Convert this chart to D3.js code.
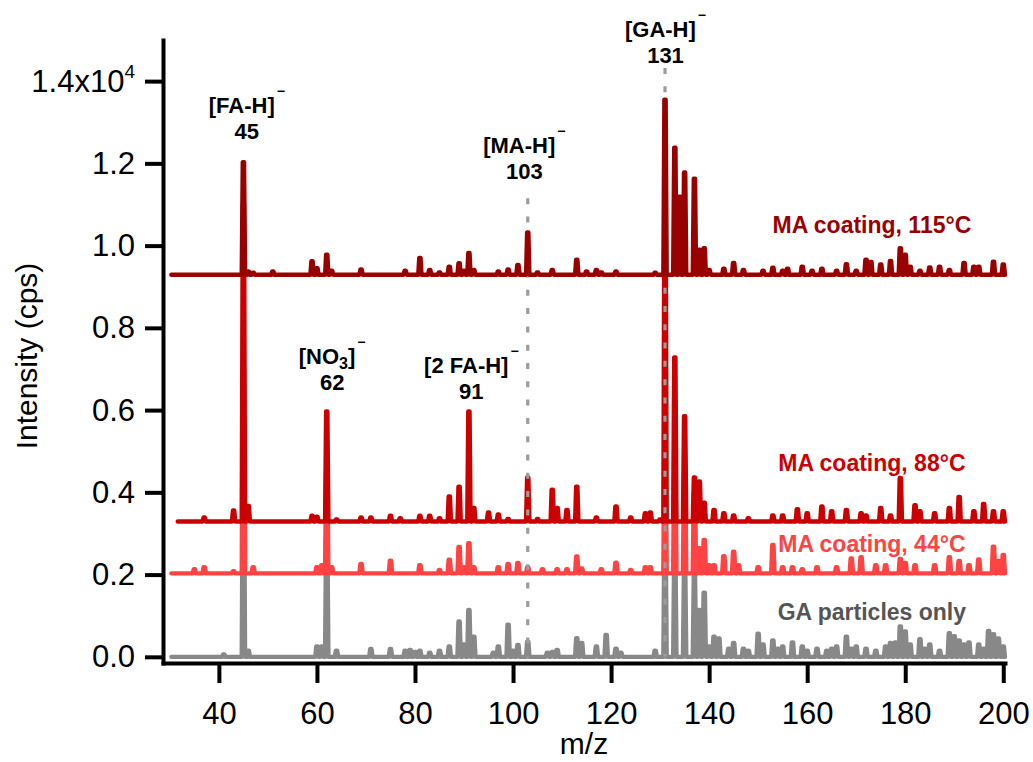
<!DOCTYPE html>
<html>
<head>
<meta charset="utf-8">
<script src="https://cdn.jsdelivr.net/npm/d3@7"></script>
<style>
  html, body { margin: 0; padding: 0; background: #fff; }
  svg { display: block; font-family: "Liberation Sans", Arial, Helvetica, sans-serif; }
</style>
</head>
<body>
<svg id="chart" width="1033" height="762"></svg>
<script>
// ---- axis ticks ----
const xTicks = [40, 60, 80, 100, 120, 140, 160, 180, 200];
const yTicks = [0, 2000, 4000, 6000, 8000, 10000, 12000, 14000];

// ---- spectra: peak m/z and intensity above the trace's own baseline (cps) ----
// GA particles only
const gaMz  = [41, 45, 46, 60, 61, 62, 64, 71, 75, 78, 79, 80, 81, 83, 85, 87, 89, 90, 91, 92, 96, 97, 99, 100, 101, 103, 107, 108, 109, 113, 114, 117, 119, 121, 122, 129, 131, 133, 135, 137, 138, 139, 140, 141, 142, 144, 145, 147, 148, 150, 151, 153, 154, 155, 157, 159, 160, 162, 164, 165, 166, 168, 169, 170, 172, 174, 176, 177, 178, 179, 180, 181, 183, 184, 185, 187, 189, 190, 191, 192, 193, 195, 196, 197, 198, 199, 200];
const gaInt = [60, 4500, 150, 250, 250, 3000, 150, 190, 190, 150, 170, 120, 150, 100, 150, 250, 860, 300, 1140, 490, 100, 250, 780, 150, 290, 370, 100, 120, 170, 455, 340, 250, 535, 200, 100, 150, 3000, 2500, 2200, 2000, 1140, 1560, 250, 490, 450, 200, 340, 200, 150, 560, 300, 400, 200, 250, 350, 250, 150, 200, 150, 200, 250, 490, 200, 250, 200, 150, 250, 335, 350, 740, 620, 300, 430, 200, 300, 150, 575, 500, 400, 300, 350, 300, 200, 630, 550, 450, 250];

// MA coating, 44 °C
const ma44Mz  = [35, 37, 43, 45, 47, 60, 61, 62, 63, 69, 75, 81, 85, 87, 89, 90, 91, 92, 97, 99, 101, 103, 106, 109, 111, 113, 114, 118, 121, 124, 127, 128, 131, 133, 135, 137, 138, 139, 140, 141, 143, 145, 146, 150, 153, 155, 157, 159, 162, 166, 169, 171, 174, 176, 179, 180, 182, 186, 189, 191, 193, 195, 198, 199, 200];
const ma44Int = [100, 150, 50, 4970, 150, 150, 200, 2470, 150, 230, 310, 200, 80, 330, 640, 150, 736, 150, 150, 230, 250, 150, 100, 100, 100, 410, 120, 100, 260, 80, 150, 150, 3470, 2970, 2470, 1970, 610, 810, 200, 200, 420, 525, 200, 150, 690, 150, 150, 100, 150, 150, 365, 390, 200, 200, 350, 250, 200, 200, 390, 300, 200, 340, 650, 300, 450];

// MA coating, 88 °C
const ma88Mz  = [37, 43, 45, 46, 59, 60, 62, 64, 69, 71, 75, 77, 81, 83, 85, 87, 89, 91, 92, 95, 97, 99, 103, 105, 108, 109, 111, 113, 117, 121, 124, 127, 128, 130, 131, 133, 135, 137, 138, 139, 141, 143, 145, 148, 153, 155, 158, 160, 163, 165, 168, 171, 172, 175, 177, 179, 182, 183, 186, 189, 191, 194, 196, 198, 200];
const ma88Int = [100, 270, 7710, 380, 140, 120, 2680, 50, 100, 100, 140, 80, 140, 140, 80, 610, 850, 2680, 330, 220, 170, 60, 1070, 60, 775, 330, 280, 850, 100, 370, 100, 200, 220, 50, 8210, 3990, 2560, 1070, 975, 460, 280, 200, 150, 80, 150, 150, 300, 200, 370, 250, 280, 200, 150, 330, 150, 1060, 400, 250, 200, 330, 600, 250, 430, 250, 250];

// MA coating, 115 °C
const ma115Mz  = [45, 46, 47, 51, 59, 60, 62, 63, 69, 78, 81, 83, 85, 87, 89, 90, 91, 92, 97, 99, 101, 103, 105, 108, 113, 115, 117, 118, 121, 129, 131, 133, 134, 135, 137, 138, 139, 140, 143, 145, 147, 151, 153, 155, 156, 159, 161, 163, 166, 168, 170, 172, 173, 175, 177, 179, 180, 181, 183, 185, 187, 189, 192, 194, 195, 198, 200];
const ma115Int = [2740, 80, 50, 80, 330, 160, 490, 100, 130, 100, 410, 120, 60, 200, 280, 100, 530, 120, 80, 130, 240, 1030, 60, 120, 370, 80, 120, 60, 80, 50, 4260, 3090, 1900, 2490, 2340, 610, 650, 120, 150, 290, 120, 100, 170, 100, 150, 200, 100, 150, 100, 260, 100, 370, 310, 250, 340, 650, 490, 200, 100, 180, 200, 120, 290, 200, 200, 320, 250];

// trace names, vertical offsets (cps) and first recorded m/z
const seriesNames   = ["GA particles only", "MA coating, 44°C", "MA coating, 88°C", "MA coating, 115°C"];
const seriesOffsets = [0, 2030, 3290, 9290];
const seriesStart   = [30.3, 30.3, 31.6, 30.3];
const seriesEnd     = [200, 200, 200, 200];
// where each trace name sits (m/z, cps)
const seriesLabelMz  = [173.2, 173.2, 173.2, 173.2];
const seriesLabelInt = [895, 2556, 4526, 10299];

// assigned ions: label, nominal m/z, centre of text (m/z), text baseline (cps)
const ionNames   = ["[FA-H]", "[NO3]", "[2 FA-H]", "[MA-H]", "[GA-H]"];
const ionMz      = [45, 62, 91, 103, 131];
const ionTextMz  = [45.7, 63.1, 91.5, 102.3, 131.1];
const ionTextInt = [13224, 7133, 6894, 12251, 15072];
// reference lines: m/z and top of each dotted line (cps)
const guideMz  = [103, 131];
const guideTop = [11150, 14318];

// ---- styles ----
const colors = ["#888888", "#ff4242", "#cc0000", "#990000"];
const labelColors = ["#555555", "#ff4242", "#cc0000", "#990000"];

const svg = d3.select("#chart");
const x = d3.scaleLinear().domain([28.6, 200.35]).range([163, 1005]);
const y = d3.scaleLinear().domain([-150, 15000]).range([663, 40]);

const spectra = [
  { mz: gaMz, int: gaInt },
  { mz: ma44Mz, int: ma44Int },
  { mz: ma88Mz, int: ma88Int },
  { mz: ma115Mz, int: ma115Int }
];

// build a stick-spectrum outline: baseline, then a narrow column per peak
function tracePoints(s, i) {
  const base = seriesOffsets[i];
  const pts = [[seriesStart[i], base]];
  const order = d3.range(s.mz.length).sort((a, b) => s.mz[a] - s.mz[b]);
  for (const k of order) {
    const m = s.mz[k], h = s.int[k];
    pts.push([m - 0.34, base], [m - 0.13, base + h], [m + 0.13, base + h], [m + 0.34, base]);
  }
  pts.push([seriesEnd[i], base]);
  return pts;
}

const line = d3.line().x(d => x(d[0])).y(d => y(d[1]));

function drawTrace(i) {
  svg.append("path")
    .attr("d", line(tracePoints(spectra[i], i)))
    .attr("fill", "none")
    .attr("stroke", colors[i])
    .attr("stroke-width", 4.4)
    .attr("stroke-linejoin", "round")
    .attr("stroke-linecap", "round");
}

// lower traces first, the hottest coating is drawn over the guides
drawTrace(0);
drawTrace(1);
drawTrace(2);

guideMz.forEach((m, i) => {
  svg.append("line")
    .attr("x1", x(m)).attr("x2", x(m))
    .attr("y1", y(guideTop[i])).attr("y2", y(0))
    .attr("stroke", "#9c9c9c")
    .attr("stroke-width", 3.2)
    .attr("stroke-dasharray", "6,12.3");
});

drawTrace(3);

// ---- axes ----
const xAxis = d3.axisBottom(x).tickValues(xTicks).tickSize(20).tickSizeOuter(0).tickPadding(19)
  .tickFormat(d3.format("d"));
const gx = svg.append("g").attr("transform", `translate(0,${y.range()[0]})`).call(xAxis);

const yAxis = d3.axisLeft(y).tickValues(yTicks).tickSize(18).tickSizeOuter(0).tickPadding(10)
  .tickFormat(d => d === 14000 ? "1.4x10" : (d / 1e4).toFixed(1));
const gy = svg.append("g").attr("transform", `translate(${x.range()[0]},0)`).call(yAxis);

[gx, gy].forEach(g => {
  g.attr("font-family", null).attr("font-size", null);
  g.select(".domain").attr("stroke", "#000").attr("stroke-width", 4).attr("stroke-linecap", "square");
  g.selectAll(".tick line").attr("stroke", "#000").attr("stroke-width", 4);
  g.selectAll(".tick text").attr("fill", "#000").style("font-size", "31px");
});

gy.selectAll(".tick text").filter(d => d === 14000)
  .append("tspan").attr("dy", "-14").style("font-size", "19px").text("4");

// axis titles
svg.append("text")
  .attr("transform", "translate(37,356) rotate(-90)")
  .attr("text-anchor", "middle")
  .style("font-size", "30px")
  .text("Intensity (cps)");

svg.append("text")
  .attr("x", (x.range()[0] + x.range()[1]) / 2)
  .attr("y", 754)
  .attr("text-anchor", "middle")
  .style("font-size", "30px")
  .text("m/z");

// ---- ion labels ----
ionNames.forEach((name, i) => {
  const cx = x(ionTextMz[i]);
  const by = y(ionTextInt[i]);
  const t = svg.append("text")
    .attr("x", cx).attr("y", by)
    .attr("text-anchor", "middle")
    .style("font-size", "22px").style("font-weight", "bold");
  const sub = name.match(/^(\[[A-Z]+)(\d)(\])$/);
  if (sub) {
    t.append("tspan").text(sub[1]);
    t.append("tspan").attr("dy", 5).style("font-size", "16px").text(sub[2]);
    t.append("tspan").attr("dy", -5).text(sub[3]);
  } else {
    t.append("tspan").text(name);
  }
  t.append("tspan").attr("dy", -17).attr("dx", 2).style("font-size", "14px").text("\u2212");

  svg.append("text")
    .attr("x", cx).attr("y", by + 26)
    .attr("text-anchor", "middle")
    .style("font-size", "22px").style("font-weight", "bold")
    .text(ionMz[i]);
});

// ---- trace names ----
seriesNames.forEach((name, i) => {
  svg.append("text")
    .attr("x", x(seriesLabelMz[i]))
    .attr("y", y(seriesLabelInt[i]))
    .attr("text-anchor", "middle")
    .attr("fill", labelColors[i])
    .style("font-size", "23px").style("font-weight", "bold")
    .text(name);
});
</script>
</body>
</html>
